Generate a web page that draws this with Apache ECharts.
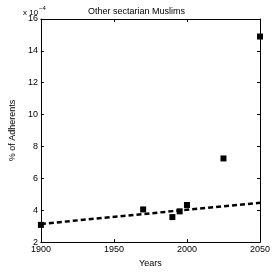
<!DOCTYPE html>
<html><head><meta charset="utf-8">
<script src="https://cdn.jsdelivr.net/npm/echarts@6/dist/echarts.min.js"></script>
<style>html,body{margin:0;padding:0;background:#fff}#c{width:273px;height:273px}</style>
</head><body><div id="c"></div>
<script>
const years = [1900, 1970, 1990, 1995, 2000, 2025, 2050];
const values = [3.08, 4.05, 3.57, 3.93, 4.33, 7.25, 14.9]; // x 10^-4 %
const trendYears = [1900, 2050];
const trendValues = [3.14, 4.47];
const xTicks = [1900, 1950, 2000, 2050];
const yTicks = [2, 4, 6, 8, 10, 12, 14, 16];
const titleText = 'Other sectarian Muslims';
const xName = 'Years';
const yName = '% of Adherents';

const font = 'Liberation Sans, Arial, sans-serif';
const chart = echarts.init(document.getElementById('c'), null, {renderer: 'canvas'});
const axisCommon = {
  type: 'value',
  axisLine: {show: true, lineStyle: {color: '#000', width: 1}},
  axisTick: {show: true, inside: true, length: 3, lineStyle: {color: '#000'}},
  splitLine: {show: false},
};
chart.setOption({
  animation: false,
  backgroundColor: '#fff',
  title: {text: titleText, left: 'center', top: 2, textStyle: {fontFamily: font, fontSize: 9, fontWeight: 'normal', color: '#000'}},
  graphic: [
    {type: 'text', left: 23, top: 9, style: {text: 'x 10', fontFamily: font, fontSize: 8, fill: '#000'}},
    {type: 'text', left: 39, top: 5, style: {text: '−4', fontFamily: font, fontSize: 6, fill: '#000'}}
  ],
  grid: {left: 22, right: 11, top: 19, bottom: 25, containLabel: false},
  xAxis: [
    Object.assign({}, axisCommon, {min: xTicks[0], max: xTicks[xTicks.length-1], interval: 50,
      name: xName, nameLocation: 'middle', nameGap: 15,
      nameTextStyle: {fontFamily: font, fontSize: 9, color: '#000'},
      axisLabel: {fontFamily: font, fontSize: 9, color: '#000', margin: 3, formatter: v => String(v)}}),
    Object.assign({}, axisCommon, {position: 'top', min: xTicks[0], max: xTicks[xTicks.length-1], interval: 50, axisLabel: {show: false}})
  ],
  yAxis: [
    Object.assign({}, axisCommon, {min: yTicks[0], max: yTicks[yTicks.length-1], interval: 2,
      name: yName, nameLocation: 'middle', nameGap: 12,
      nameTextStyle: {fontFamily: font, fontSize: 9, color: '#000'},
      axisLabel: {fontFamily: font, fontSize: 9, color: '#000', margin: 3, formatter: v => String(v)}}),
    Object.assign({}, axisCommon, {position: 'right', min: yTicks[0], max: yTicks[yTicks.length-1], interval: 2, axisLabel: {show: false}})
  ],
  series: [
    {type: 'line', data: trendYears.map((y, i) => [y, trendValues[i]]), symbol: 'none',
      lineStyle: {color: '#000', width: 2.5, type: [5, 3]}, z: 2},
    {type: 'scatter', data: years.map((y, i) => [y, values[i]]), symbol: 'rect', symbolSize: 6,
      itemStyle: {color: '#000', opacity: 1}, z: 3}
  ]
});
</script></body></html>
